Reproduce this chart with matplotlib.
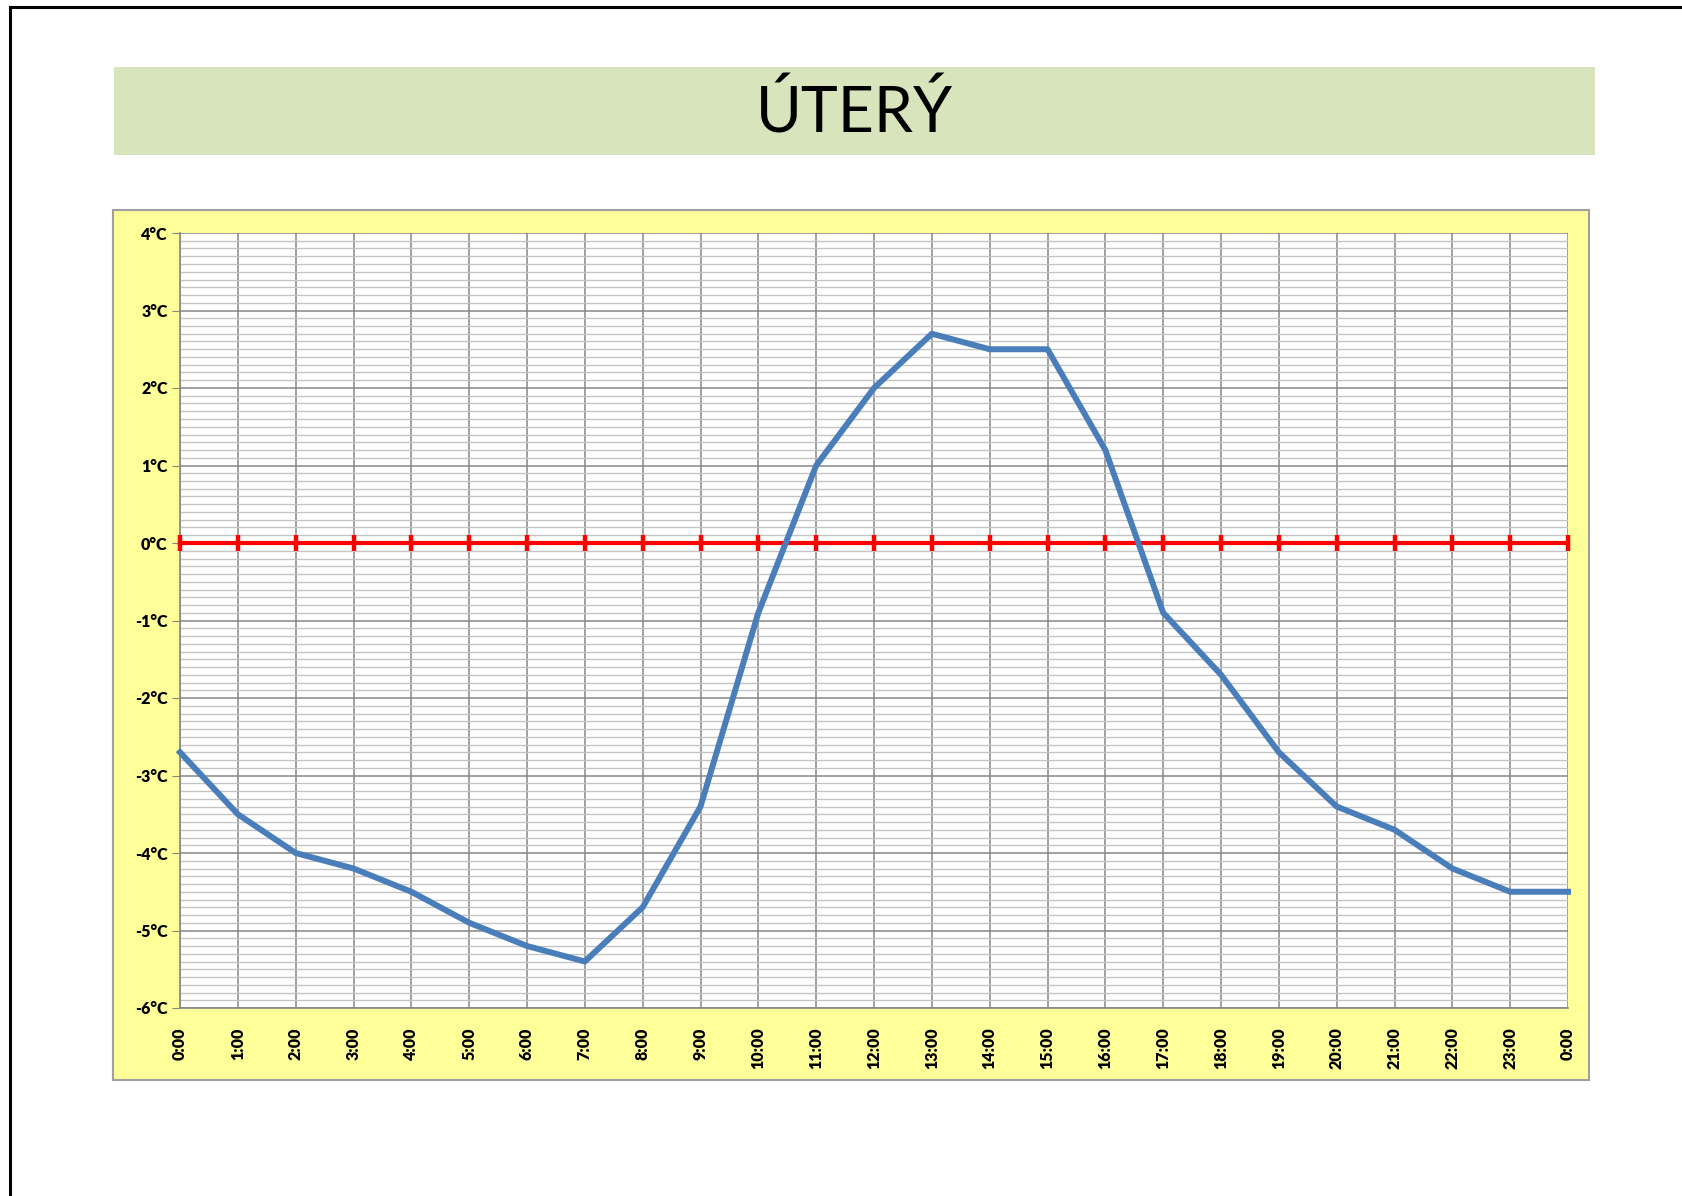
import numpy as np
import matplotlib
matplotlib.use("Agg")
import matplotlib.pyplot as plt
from matplotlib.patches import Rectangle
from matplotlib.lines import Line2D
from matplotlib.ticker import MultipleLocator

# Data (hourly temperature, deg C)
hours = list(range(25))
hour_labels = ["%d:00" % (h % 24) for h in hours]
temps = [-2.7, -3.5, -4.0, -4.2, -4.5, -4.9, -5.2, -5.4, -4.7, -3.4,
         -0.9, 1.0, 2.0, 2.7, 2.5, 2.5, 1.2, -0.9, -1.7, -2.7,
         -3.4, -3.7, -4.2, -4.5, -4.5]
zero_line = [0.0] * len(hours)
y_ticks = [4, 3, 2, 1, 0, -1, -2, -3, -4, -5, -6]
title = "ÚTERÝ"

W, H = 1682, 1196
plt.rcParams['font.family'] = ['Lato', 'DejaVu Sans']


def fx(px):
    return px / W


def fy(py):
    return 1 - py / H


fig = plt.figure(figsize=(W / 100, H / 100), dpi=100)
fig.patch.set_facecolor("white")

# page border (left + top)
fig.add_artist(Line2D([fx(10), fx(10)], [fy(7), 0], color="black", lw=2.2, transform=fig.transFigure))
fig.add_artist(Line2D([fx(10), 1], [fy(7), fy(7)], color="black", lw=2.2, transform=fig.transFigure))

# title band
fig.add_artist(Rectangle((fx(114), fy(155)), fx(1595) - fx(114), fy(67) - fy(155),
                         transform=fig.transFigure, facecolor="#D8E4BC", edgecolor="none", zorder=-2))
fig.text((fx(114) + fx(1595)) / 2, (fy(67) + fy(155)) / 2 - 0.002, title, ha="center", va="center",
         fontsize=45, color="black")

# chart area (yellow)
fig.add_artist(Rectangle((fx(113), fy(1080)), fx(1589) - fx(113), fy(210) - fy(1080),
                         transform=fig.transFigure, facecolor="#FFFF99", edgecolor="#A0A0A0", lw=1.5,
                         zorder=-2))

ax = fig.add_axes([fx(180), fy(1008), fx(1568) - fx(180), fy(233) - fy(1008)])
ax.set_zorder(1)
ax.set_facecolor("white")

ax.plot(hours, zero_line, color="#FF0000", lw=3, marker="|", markersize=12, mew=3.2, zorder=3,
        clip_on=False)
ax.plot(hours, temps, color="#4A7EBB", lw=4.3, zorder=4, solid_joinstyle="round", clip_on=False)

ax.set_xlim(0, 24)
ax.set_ylim(-6, 4)
ax.set_xticks(hours)
ax.set_xticklabels(hour_labels, rotation=90, fontsize=11.5, fontweight="heavy")
ax.set_yticks(y_ticks)
ax.set_yticklabels(["%d°C" % v for v in y_ticks], fontsize=11.5, fontweight="heavy")
ax.yaxis.set_minor_locator(MultipleLocator(0.1))

ax.grid(which="major", axis="both", color="#868686", lw=1.1, zorder=1)
ax.grid(which="minor", axis="y", color="#C4C4C4", lw=1.0, zorder=0)
ax.set_axisbelow(True)

ax.tick_params(axis="x", which="both", length=0, pad=14)
ax.tick_params(axis="y", which="major", length=6, color="#868686", pad=3)
ax.tick_params(axis="y", which="minor", length=0)

for side in ["top", "right"]:
    ax.spines[side].set_visible(False)
for side in ["left", "bottom"]:
    ax.spines[side].set_color("#868686")
    ax.spines[side].set_linewidth(1.2)

fig.savefig("out.png", dpi=100)
